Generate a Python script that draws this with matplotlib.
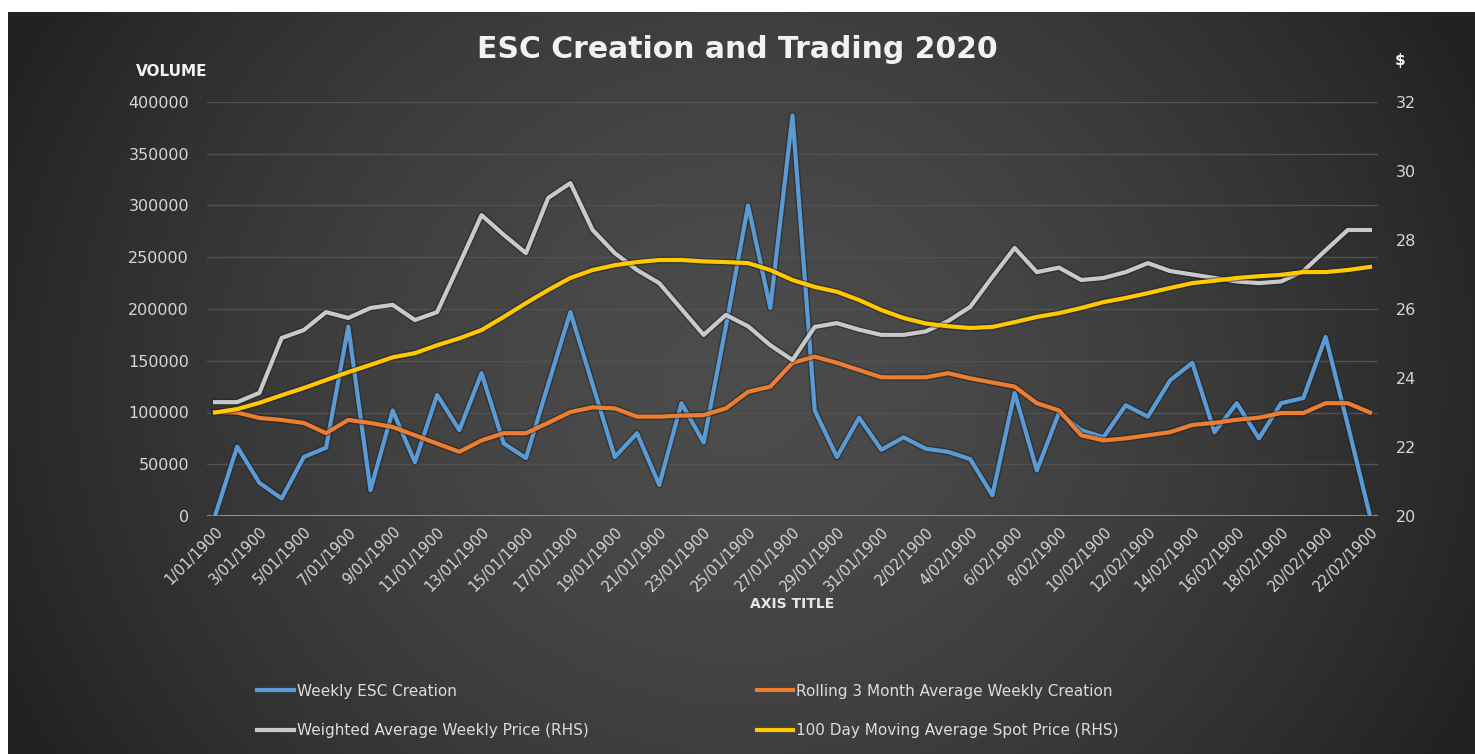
import numpy as np
import pandas as pd
import matplotlib
matplotlib.use('Agg')
import matplotlib.pyplot as plt
import matplotlib.patheffects as pe

# data
dates = pd.date_range('1900-01-01', '1900-02-22', freq='D')
date_labels = ['%d/%02d/%d' % (d.day, d.month, d.year) for d in dates]

weekly_creation = [0, 67000, 32000, 17000, 57000, 66000, 183000, 25000, 102000, 52000,
                   117000, 83000, 138000, 70000, 56000, 127000, 197000, 127000, 57000, 80000,
                   30000, 109000, 71000, 183000, 300000, 201000, 387000, 102000, 57000, 95000,
                   64000, 76000, 65000, 62000, 55000, 20000, 119000, 44000, 100000, 83000,
                   76000, 107000, 96000, 131000, 148000, 81000, 109000, 75000, 109000, 114000,
                   173000, 88000, 0]

rolling_3m = [100500, 100000, 94700, 92800, 89900, 80000, 92800, 89900, 86000, 78000,
              70000, 62000, 73000, 80000, 80000, 90000, 100500, 105000, 104000, 96000,
              96000, 97000, 97500, 104000, 120000, 125000, 148000, 154000, 148000, 141000,
              134000, 134000, 134000, 138000, 133000, 129000, 125000, 109000, 102000, 78000,
              73000, 75000, 78000, 81000, 88000, 90000, 93000, 95000, 99500, 99500,
              109000, 109000, 100000]

weighted_price = [23.3, 23.3, 23.57, 25.16, 25.39, 25.91, 25.74, 26.03, 26.12, 25.68,
                  25.91, 27.3, 28.72, 28.15, 27.62, 29.22, 29.65, 28.29, 27.62, 27.13,
                  26.75, 26.0, 25.25, 25.83, 25.5, 24.95, 24.52, 25.48, 25.59, 25.4,
                  25.25, 25.25, 25.35, 25.65, 26.06, 26.93, 27.77, 27.07, 27.2, 26.84,
                  26.9, 27.07, 27.33, 27.1, 27.0, 26.9, 26.8, 26.75, 26.8, 27.1,
                  27.7, 28.29, 28.29]

moving_avg_price = [23.0, 23.1, 23.28, 23.5, 23.71, 23.94, 24.17, 24.38, 24.6, 24.72,
                    24.95, 25.15, 25.39, 25.77, 26.17, 26.55, 26.9, 27.13, 27.27, 27.36,
                    27.42, 27.42, 27.38, 27.36, 27.33, 27.13, 26.84, 26.64, 26.5, 26.26,
                    25.97, 25.74, 25.58, 25.5, 25.45, 25.48, 25.62, 25.77, 25.88, 26.03,
                    26.2, 26.32, 26.46, 26.61, 26.75, 26.82, 26.9, 26.95, 26.99, 27.07,
                    27.07, 27.13, 27.22]

volume_ticks = [0, 50000, 100000, 150000, 200000, 250000, 300000, 350000, 400000]
price_ticks = [20, 22, 24, 26, 28, 30, 32]

W, H = 1475, 754
fig = plt.figure(figsize=(W / 100, H / 100), dpi=100, facecolor='white')

# dark radial background
bg = fig.add_axes([8 / W, 0, 1 - 8 / W, (H - 12) / H], zorder=0)
gx, gy = np.meshgrid(np.linspace(0, 1, 600), np.linspace(0, 1, 300))
dist = np.sqrt(((gx - 0.5) / 0.55) ** 2 + ((gy - 0.5) / 1.0) ** 2)
shade = 0x4c - (0x4c - 0x22) * np.clip(dist, 0, 1) ** 1.6
bg.imshow(np.dstack([shade / 255] * 3), aspect='auto', extent=[0, 1, 0, 1])
bg.axis('off')

n = len(dates)
x = np.arange(n)
ax = fig.add_axes([207 / W, (H - 516) / H, 1171 / W, 414 / H], zorder=2)
ax.patch.set_alpha(0)
ax.set_xlim(-0.36, n - 1 + 0.36)
ax.set_ylim(0, 400000)
ax.set_yticks(volume_ticks)
ax.set_yticklabels([str(v) for v in volume_ticks])
for v in volume_ticks[1:]:
    ax.axhline(v, color='#525252', lw=1, zorder=0)
ax.axhline(0, color='#9a9a9a', lw=1.3, zorder=1)
for s in ax.spines.values():
    s.set_visible(False)
ax.tick_params(axis='both', length=0, colors='#d6d6d6', labelsize=11.5)
ax.tick_params(axis='y', pad=13)
ax.set_xticks(x[::2])
ax.set_xticklabels(date_labels[::2], rotation=45, ha='right', rotation_mode='anchor')
ax.tick_params(axis='x', pad=6, labelsize=10.5)

shadow = [pe.Stroke(linewidth=5, foreground='#1c1c1c', alpha=0.45), pe.Normal()]
l1, = ax.plot(x, weekly_creation, color='#5b9bd5', lw=3, path_effects=shadow,
              label='Weekly ESC Creation')
l2, = ax.plot(x, rolling_3m, color='#ed7d31', lw=3, path_effects=shadow,
              label='Rolling 3 Month Average Weekly Creation')

ax2 = ax.twinx()
ax2.set_ylim(20, 32)
ax2.set_yticks(price_ticks)
for s in ax2.spines.values():
    s.set_visible(False)
ax2.tick_params(axis='y', length=0, colors='#d6d6d6', labelsize=11.5, pad=13)
l3, = ax2.plot(x, weighted_price, color='#c9c9c9', lw=3, path_effects=shadow,
               label='Weighted Average Weekly Price (RHS)')
l4, = ax2.plot(x, moving_avg_price, color='#ffc800', lw=3, path_effects=shadow,
               label='100 Day Moving Average Spot Price (RHS)')

fig.text(0.5, (H - 50) / H, 'ESC Creation and Trading 2020', ha='center', va='center',
         color='#f2f2f2', fontsize=21.5, fontweight='bold')
fig.text(172 / W, (H - 71) / H, 'VOLUME', ha='center', va='center',
         color='#f2f2f2', fontsize=11, fontweight='bold')
fig.text(1395 / W, (H - 60) / H, '$', ha='left', va='center',
         color='#f2f2f2', fontsize=11, fontweight='bold')
fig.text(792 / W, (H - 604) / H, 'AXIS TITLE', ha='center', va='center',
         color='#e6e6e6', fontsize=10, fontweight='bold')

leg = fig.legend(handles=[l1, l3, l2, l4], ncol=2, frameon=False,
                 loc='center', bbox_to_anchor=(688 / W, (H - 711) / H),
                 fontsize=11, handlelength=2.4, handletextpad=0.2,
                 columnspacing=11, labelspacing=1.6, labelcolor='#dcdcdc')
for h in leg.legend_handles:
    h.set_path_effects([])

plt.savefig('out.png', dpi=100, facecolor='white')
